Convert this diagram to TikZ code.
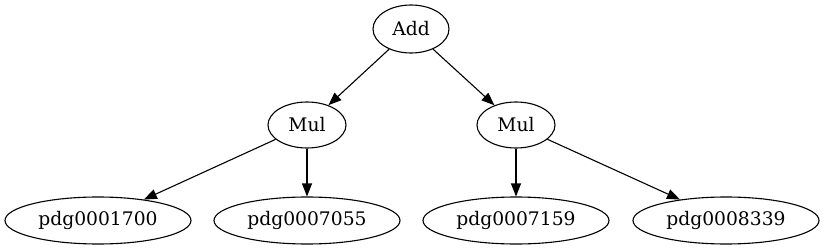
\documentclass[tikz,border=0pt]{standalone}
\usepackage{fontspec}
\setmainfont{DejaVu Serif}
\usetikzlibrary{arrows.meta,shapes.geometric}
\begin{document}
\begin{tikzpicture}[x=1pt,y=-1pt,
  gnode/.style={draw,ellipse,line width=1.1pt,inner sep=0pt,font=\fontsize{18.7}{22}\selectfont},
  gedge/.style={line width=1.1pt,-{Triangle[length=13pt,width=10pt]}}]
\useasboundingbox (0,0) rectangle (824,251);
\node[gnode,minimum width=76pt,minimum height=48pt] (add) at (411,29) {Add};
\node[gnode,minimum width=78pt,minimum height=46pt] (mull) at (307,125) {Mul};
\node[gnode,minimum width=78pt,minimum height=46pt] (mulr) at (516,125) {Mul};
\node[gnode,minimum width=186pt,minimum height=47pt] (p1) at (98,220.5) {pdg0001700};
\node[gnode,minimum width=186pt,minimum height=47pt] (p2) at (307,220.5) {pdg0007055};
\node[gnode,minimum width=186pt,minimum height=47pt] (p3) at (516,220.5) {pdg0007159};
\node[gnode,minimum width=186pt,minimum height=47pt] (p4) at (726,220.5) {pdg0008339};
\draw[gedge] (add) -- (mull);
\draw[gedge] (add) -- (mulr);
\draw[gedge] (mull) -- (p1);
\draw[gedge] (mull) -- (p2);
\draw[gedge] (mulr) -- (p3);
\draw[gedge] (mulr) -- (p4);
\end{tikzpicture}
\end{document}
